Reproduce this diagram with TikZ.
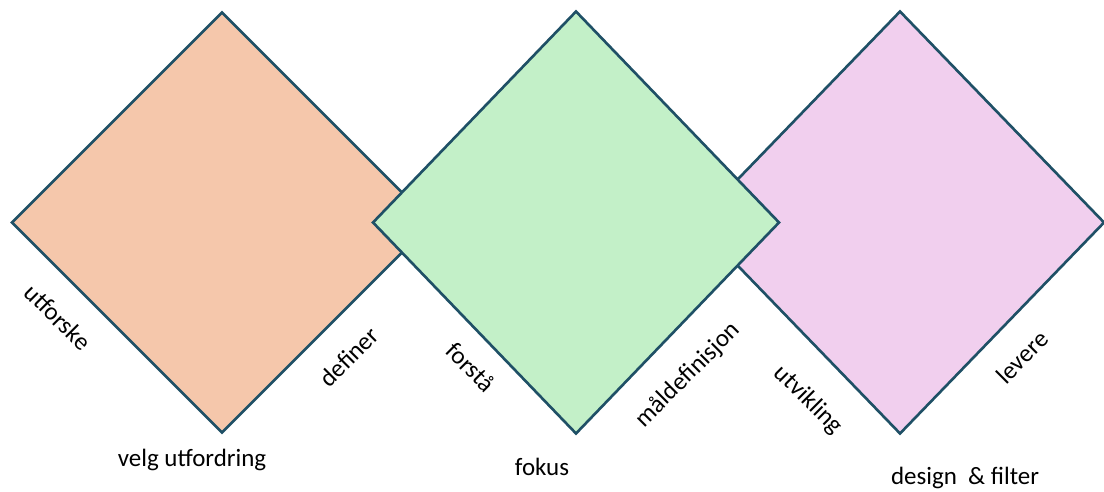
\documentclass[tikz,border=0pt]{standalone}
\usepackage{fontspec}
\setmainfont{Carlito}
\usepackage{tikz}
\usetikzlibrary{positioning,calc}

\definecolor{rand}{HTML}{1F5066}
\definecolor{fyllA}{HTML}{F5C7AB}
\definecolor{fyllB}{HTML}{C3F0C8}
\definecolor{fyllC}{HTML}{F1CFEE}

\begin{document}
\begin{tikzpicture}[every node/.style={inner sep=1pt, font=\fontsize{7.1}{8.5}\selectfont}]
\useasboundingbox (0,0) rectangle (11.04,4.91);

% Rutene (oransje, rosa, gronn oppaa)
\foreach \n/\cx/\hw/\hh/\col in {a/2.22/2.10/2.10/fyllA, c/9.00/2.04/2.11/fyllC, b/5.76/2.03/2.11/fyllB} {
  \coordinate (m\n) at (\cx,2.685);
  \draw[rand, line width=0.75pt, fill=\col, line join=miter]
    ($(m\n)+(-\hw,0)$) -- ($(m\n)+(0,\hh)$) -- ($(m\n)+(\hw,0)$) -- ($(m\n)+(0,-\hh)$) -- cycle;
}

% Skraa tekster
\foreach \n/\x/\y/\r/\txt in {
  t1/0.58/1.74/-45/utforske, t2/3.49/1.34/45/definer,
  t3/4.71/1.24/-45/forstå, t4/6.88/1.16/45/måldefinisjon,
  t5/8.08/0.91/-45/utvikling, t6/10.22/1.34/45/levere} {
  \node[rotate=\r] (\n) at (\x,\y) {\txt};
}

% Vannrette tekster
\node (velg) at (1.92,0.31) {velg utfordring};
\node (fokus) at (5.42,0.24) {fokus};
\node (design) at (9.65,0.13) {design\ \ \& filter};
\end{tikzpicture}
\end{document}
